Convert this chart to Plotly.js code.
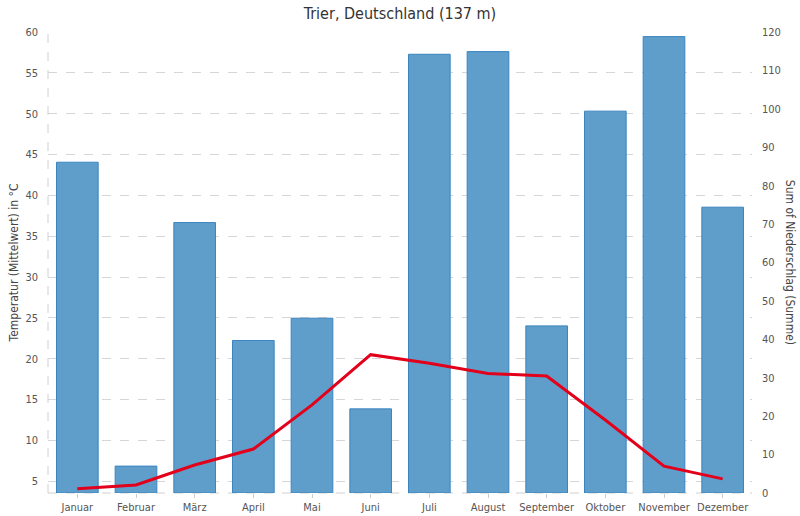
<!DOCTYPE html>
<html>
<head>
<meta charset="utf-8">
<script src="https://cdn.plot.ly/plotly-3.0.1.min.js"></script>
<style>html,body{margin:0;padding:0;background:#fff;}#chart{width:800px;height:516px;}</style>
</head>
<body>
<div id="chart"></div>
<script>
const months = ["Januar","Februar","März","April","Mai","Juni","Juli","August","September","Oktober","November","Dezember"];
const precipitation = [86.1, 7.0, 70.4, 39.7, 45.5, 21.9, 114.2, 114.9, 43.5, 99.4, 118.8, 74.4];
const temperature = [4.1, 4.55, 7.0, 8.95, 14.35, 20.5, 19.45, 18.2, 17.9, 12.5, 6.85, 5.3];
const leftTicks = [5,10,15,20,25,30,35,40,45,50,55,60];
const rightTicks = [0,10,20,30,40,50,60,70,80,90,100,110,120];

const FONT = '"DejaVu Sans Condensed", "DejaVu Sans", sans-serif';

const traces = [
  {
    type: 'bar', x: months, y: precipitation, yaxis: 'y',
    marker: {color: 'rgba(95,158,202,1)', line: {color: '#3a85c0', width: 1}},
    hoverinfo: 'none', showlegend: false
  },
  {
    type: 'scatter', mode: 'lines', x: months, y: temperature, yaxis: 'y2',
    line: {color: '#e3001b', width: 3}, hoverinfo: 'none', showlegend: false
  }
];

const layout = {
  width: 800, height: 516,
  margin: {l: 48, r: 48, t: 32, b: 23},
  paper_bgcolor: '#fff', plot_bgcolor: '#fff',
  font: {family: FONT, size: 11, color: '#555'},
  title: {text: 'Trier, Deutschland (137 m)', font: {family: FONT, size: 16, color: '#333'}, x: 0.5, xanchor: 'center', y: 0.985, yanchor: 'top'},
  bargap: 0.29,
  xaxis: {
    type: 'category', showgrid: false, zeroline: false, showline: false,
    ticks: 'outside', ticklen: 4, tickcolor: '#ccc', tickfont: {family: FONT, size: 11, color: '#555'}
  },
  yaxis: {
    side: 'right', range: [0, 120], tickvals: rightTicks, showgrid: false, zeroline: false,
    showline: false, ticks: '', ticklabelstandoff: 9, tickfont: {family: FONT, size: 11, color: '#555'}
  },
  yaxis2: {
    overlaying: 'y', side: 'left',
    range: [3.57, 60], tickvals: leftTicks, showgrid: true, gridcolor: '#d6d6d6', griddash: 'dash', gridwidth: 1,
    zeroline: false, showline: false, ticks: '', ticklabelstandoff: 9, tickfont: {family: FONT, size: 11, color: '#555'},
    title: {text: 'Temperatur (Mittelwert) in °C', font: {family: FONT, size: 12, color: '#444'}, standoff: 4}
  },
  annotations: [
    {text: 'Sum of Niederschlag (Summe)', xref: 'paper', yref: 'paper', x: 1.055, y: 0.5, textangle: 90,
     showarrow: false, font: {family: FONT, size: 12, color: '#444'}, xanchor: 'center', yanchor: 'middle'}
  ],
  shapes: [
    {type: 'line', xref: 'paper', yref: 'paper', x0: 0, x1: 0, y0: 0, y1: 1, layer: 'below', line: {color: '#d0d0d0', width: 1, dash: 'dash'}},
    {type: 'line', xref: 'paper', yref: 'paper', x0: 0, x1: 1, y0: 0, y1: 0, layer: 'below', line: {color: '#d0d0d0', width: 1, dash: 'dash'}}
  ]
};

Plotly.newPlot('chart', traces, layout, {staticPlot: true, displayModeBar: false});
</script>
</body>
</html>
